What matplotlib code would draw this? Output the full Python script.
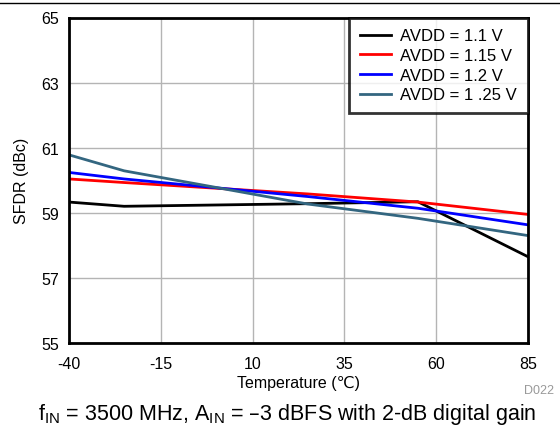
import matplotlib
matplotlib.use("Agg")
from matplotlib import pyplot as plt

plt.rcParams['font.family'] = ['Liberation Sans', 'DejaVu Sans']
plt.rcParams['axes.unicode_minus'] = False

# temperature points and SFDR readings per supply voltage
temp = [-40, -25, 25, 55, 85]
sfdr_110 = [59.33, 59.20, 59.28, 59.34, 57.65]
sfdr_115 = [60.04, 59.93, 59.58, 59.33, 58.95]
sfdr_120 = [60.24, 60.04, 59.50, 59.14, 58.63]
sfdr_125 = [60.78, 60.29, 59.27, 58.83, 58.30]

labels = ['AVDD = 1.1 V', 'AVDD = 1.15 V', 'AVDD = 1.2 V', 'AVDD = 1 .25 V']
colors = ['black', 'red', 'blue', '#336680']
xticks = [-40, -15, 10, 35, 60, 85]
yticks = [55, 57, 59, 61, 63, 65]

fig = plt.figure(figsize=(5.6, 4.27), dpi=100)
ax = fig.add_axes([69/560, 1 - 344/427, 459/560, 325.5/427])

for ys, lab, col in zip([sfdr_110, sfdr_115, sfdr_120, sfdr_125], labels, colors):
    ax.plot(temp, ys, color=col, linewidth=2, label=lab)

ax.set_xlim(-40, 85)
ax.set_ylim(55, 65)
ax.set_xticks(xticks)
ax.set_yticks(yticks)
ax.tick_params(length=0, labelsize=11.5, pad=7)
ax.tick_params(axis='x', pad=9.5)
ax.grid(True, color='#b4b4b4', linewidth=1)
ax.set_axisbelow(True)
for s in ax.spines.values():
    s.set_linewidth(2)
ax.set_xlabel('Temperature (℃)', fontsize=11.5, labelpad=3)
ax.set_ylabel('SFDR (dBc)', fontsize=11.5, labelpad=9)

leg = ax.legend(loc='upper right', bbox_to_anchor=(1.0, 1.0), fontsize=12,
                frameon=True, fancybox=False, borderaxespad=0,
                handlelength=1.9, handletextpad=0.55, labelspacing=0.28,
                borderpad=0.65)
leg.get_frame().set_edgecolor('black')
leg.get_frame().set_linewidth(2)

# header rule and figure notes
fig.add_artist(plt.Line2D([0, 1], [1 - 3.5/427, 1 - 3.5/427], color='black', linewidth=1))
fig.text(554/560, 1 - 391/427, 'D022', color='#999999', fontsize=9, ha='right', va='center')
fig.text(287/560, 1 - 420.5/427,
         r'f$_{\mathregular{IN}}$ = 3500 MHz, A$_{\mathregular{IN}}$ = –3 dBFS with 2-dB digital gain',
         fontsize=15.5, ha='center', va='baseline')

fig.savefig('out.png', dpi=100)
